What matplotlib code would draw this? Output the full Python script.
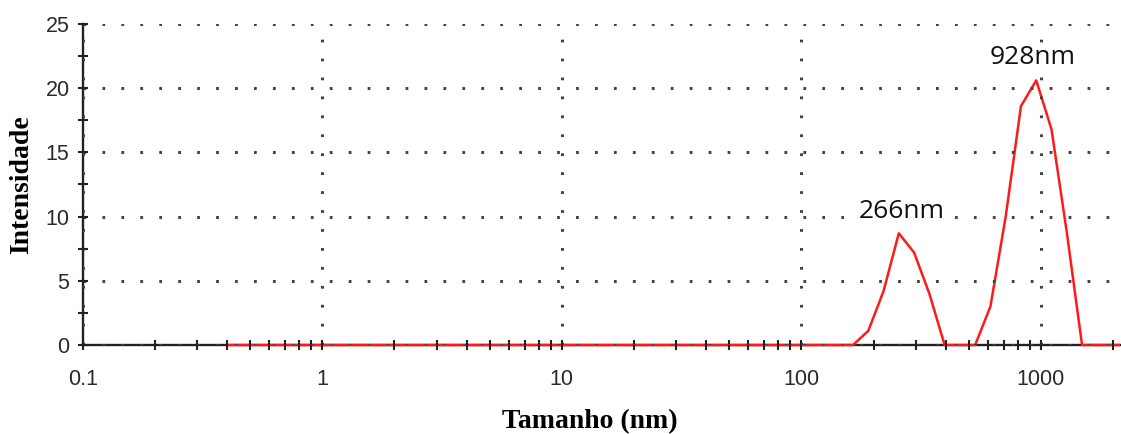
import numpy as np
import matplotlib.pyplot as plt
from matplotlib.patches import Rectangle
from matplotlib.ticker import FixedLocator, NullFormatter

# Size classes (nm) of the DLS distribution and intensity (%) in each class
sizes = [0.4, 0.4632, 0.5365, 0.6213, 0.7195, 0.8332, 0.9649, 1.117, 1.294, 1.499,
         1.736, 2.01, 2.328, 2.696, 3.122, 3.615, 4.187, 4.849, 5.615, 6.503,
         7.531, 8.721, 10.1, 11.7, 13.54, 15.69, 18.17, 21.04, 24.36, 28.21,
         32.67, 37.84, 43.82, 50.75, 58.77, 68.06, 78.82, 91.28, 105.7, 122.4,
         141.8, 164.2, 190.1, 220.2, 255.0, 295.3, 342.0, 396.1, 458.7, 531.2,
         615.1, 712.4, 825.0, 955.4, 1106, 1281, 1484, 1718, 1990, 2305,
         2669, 3091, 3580, 4145, 4801, 5560, 6439, 7456, 8635, 10000]
intensity = [0, 0, 0, 0, 0, 0, 0, 0, 0, 0,
             0, 0, 0, 0, 0, 0, 0, 0, 0, 0,
             0, 0, 0, 0, 0, 0, 0, 0, 0, 0,
             0, 0, 0, 0, 0, 0, 0, 0, 0, 0,
             0, 0, 1.1, 4.2, 8.7, 7.2, 4.0, 0, 0, 0,
             3.0, 10.0, 18.6, 20.6, 16.8, 8.8, 0, 0, 0, 0,
             0, 0, 0, 0, 0, 0, 0, 0, 0, 0]

peak_labels = ['266nm', '928nm']
peak_x = [262, 925]
peak_y = [9.9, 21.9]

fig = plt.figure(figsize=(11.21, 4.34), dpi=100)
ax = fig.add_axes([0.0738, 0.205, 0.925, 0.740])

line, = ax.plot(sizes, intensity, color='#ff1a1a', lw=1.8, zorder=2.55)
# let the zero baseline show fully on top of the x axis
line.set_clip_path(Rectangle((0, -0.05), 1, 1.1, transform=ax.transAxes))

ax.set_xscale('log')
ax.set_xlim(0.1, 2130)
ax.set_ylim(0, 25)

ax.xaxis.set_major_locator(FixedLocator([0.1, 1, 10, 100, 1000]))
ax.set_xticklabels(['0.1', '1', '10', '100', '1000'])
minors = [m * d for d in [0.1, 1, 10, 100, 1000] for m in range(2, 10)]
ax.xaxis.set_minor_locator(FixedLocator(minors))
ax.xaxis.set_minor_formatter(NullFormatter())
ax.set_yticks([0, 5, 10, 15, 20, 25])
ax.yaxis.set_minor_locator(FixedLocator([2.5, 7.5, 12.5, 17.5, 22.5]))

for s in ['top', 'right']:
    ax.spines[s].set_visible(False)
for s in ['left', 'bottom']:
    ax.spines[s].set_linewidth(1.7)
    ax.spines[s].set_color('#222222')
ax.xaxis.set_zorder(2.7)
ax.yaxis.set_zorder(2.7)

ax.tick_params(which='both', direction='inout', length=7, width=1.5, color='#222222')
ax.tick_params(axis='x', which='major', pad=14)
ax.tick_params(axis='y', which='major', pad=6)
ax.tick_params(which='major', labelsize=15.5, labelcolor='#2a2a2a')
for lab in ax.get_xticklabels() + ax.get_yticklabels():
    lab.set_family('Liberation Sans')

ax.grid(True, which='major', color='#444444', lw=2.2, linestyle=(0, (0.9, 5.3)))
for gl in ax.get_xgridlines() + ax.get_ygridlines():
    gl.set_zorder(1)

ax.set_xlabel('Tamanho (nm)', family='Liberation Serif', fontweight='bold', fontsize=20, labelpad=12)
ax.xaxis.set_label_coords(0.489, -0.2)
ax.set_ylabel('Intensidade', family='Liberation Serif', fontweight='bold', fontsize=20, labelpad=8)

for t, x, y in zip(peak_labels, peak_x, peak_y):
    ax.text(x, y, t, ha='center', va='baseline', fontsize=19, family='Open Sans', color='#111111',
            bbox=dict(facecolor='white', edgecolor='none', pad=0.5), zorder=3)

fig.savefig('out.png', dpi=100)
